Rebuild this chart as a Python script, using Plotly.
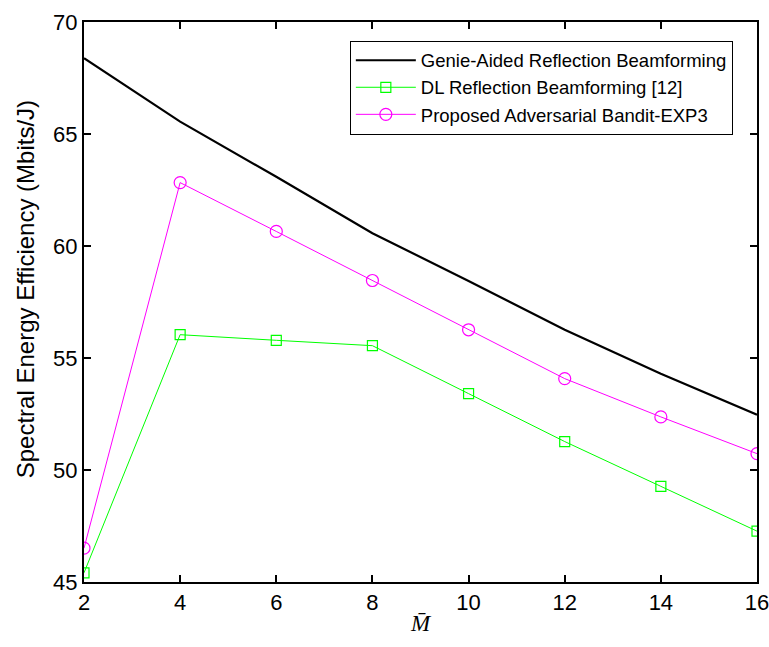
import plotly.graph_objects as go

x_vals = [2, 4, 6, 8, 10, 12, 14, 16]
genie = [68.38, 65.55, 63.09, 60.57, 58.44, 56.26, 54.30, 52.47]
dl = [45.41, 56.04, 55.79, 55.55, 53.41, 51.27, 49.27, 47.27]
proposed = [46.51, 62.83, 60.65, 58.46, 56.26, 54.08, 52.37, 50.73]
names = ["Genie-Aided Reflection Beamforming",
         "DL Reflection Beamforming [12]",
         "Proposed Adversarial Bandit-EXP3"]
x_ticks = [2, 4, 6, 8, 10, 12, 14, 16]
y_ticks = [45, 50, 55, 60, 65, 70]
y_title = "Spectral Energy Efficiency (Mbits/J)"
x_title = "<i>M̄</i>"

fig = go.Figure()
fig.add_trace(go.Scatter(x=x_vals, y=genie, mode="lines", name=names[0],
                         line=dict(color="black", width=2.2)))
fig.add_trace(go.Scatter(x=x_vals, y=dl, mode="lines+markers", name=names[1],
                         line=dict(color="#00ff00", width=1),
                         marker=dict(symbol="square-open", size=10, color="#00ff00",
                                     line=dict(width=1.2, color="#00ff00"))))
fig.add_trace(go.Scatter(x=x_vals, y=proposed, mode="lines+markers", name=names[2],
                         line=dict(color="#ff00ff", width=1),
                         marker=dict(symbol="circle-open", size=12, color="#ff00ff",
                                     line=dict(width=1.2, color="#ff00ff"))))

axis_common = dict(showgrid=False, zeroline=False, showline=True, linecolor="black",
                   linewidth=2, mirror="ticks", ticks="inside", ticklen=7,
                   tickwidth=2, tickcolor="black", automargin=False,
                   ticklabeloverflow="allow",
                   tickfont=dict(family="Liberation Sans, Arial", size=22, color="black"))

fig.update_xaxes(range=[2, 16], tickvals=x_ticks, **axis_common,
                 title=dict(text=x_title, font=dict(family="Liberation Serif, serif",
                                                    size=23, color="black"), standoff=0))
fig.update_yaxes(range=[45, 70], tickvals=y_ticks, **axis_common)

fig.add_annotation(text=y_title, xref="paper", yref="paper", x=-0.0868, y=0.522,
                   xanchor="center", yanchor="middle", textangle=-90, showarrow=False,
                   font=dict(family="Liberation Sans, Arial", size=24, color="black"))

fig.update_layout(
    width=769, height=647,
    margin=dict(l=83.5, r=11.5, t=22, b=64.5, autoexpand=False),
    paper_bgcolor="white", plot_bgcolor="white",
    legend=dict(x=0.395, y=0.9666, xanchor="left", yanchor="top",
                bgcolor="white", bordercolor="black", borderwidth=1,
                font=dict(family="Liberation Sans, Arial", size=18.5, color="black"),
                itemwidth=60, tracegroupgap=0),
    showlegend=True,
)

fig.write_html("out.html", config={"displayModeBar": False},
               post_script="document.body.style.margin='0px';document.body.style.overflow='hidden';")
